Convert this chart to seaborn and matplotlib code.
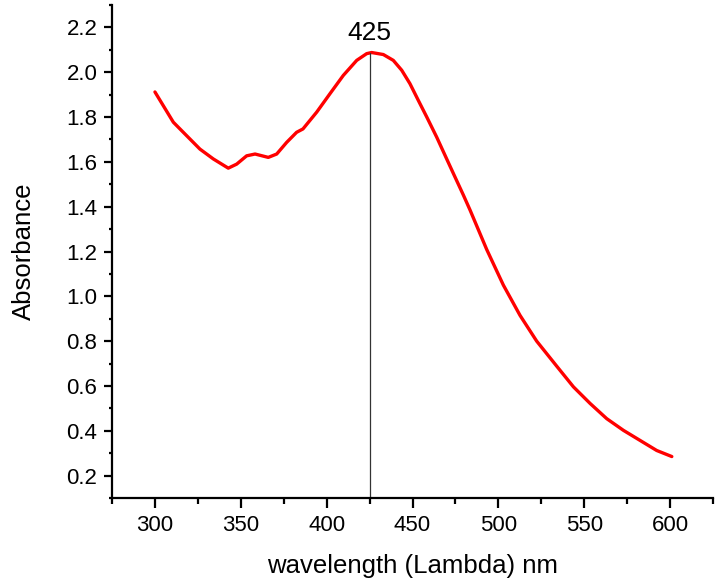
import numpy as np
import pandas as pd
import matplotlib
matplotlib.use("Agg")
import matplotlib.pyplot as plt
import seaborn as sns
from matplotlib.ticker import MultipleLocator

wavelength = [300, 310.7, 316.5, 326.2, 334.0, 342.7, 347.6, 353.4, 358.3, 366.0,
              370.9, 376.7, 382.5, 386.2, 394.2, 401.9, 405.8, 409.7, 417.5, 423.3,
              426.2, 433.0, 438.8, 443.7, 448.5, 453.4, 458.3, 464.1, 469.9, 473.8,
              479.6, 483.5, 493.2, 502.9, 512.6, 522.3, 534.0, 543.7, 553.4, 563.1,
              572.8, 582.5, 592.2, 601.0]
absorbance = [1.912, 1.777, 1.732, 1.657, 1.613, 1.572, 1.590, 1.627, 1.635, 1.620,
              1.635, 1.687, 1.732, 1.747, 1.822, 1.904, 1.945, 1.986, 2.053, 2.083,
              2.088, 2.079, 2.053, 2.009, 1.949, 1.874, 1.800, 1.710, 1.613, 1.548,
              1.452, 1.385, 1.209, 1.050, 0.915, 0.800, 0.688, 0.596, 0.522, 0.454,
              0.402, 0.357, 0.312, 0.285]
peak_wl = 425
peak_label = "425"
x_ticks = [300, 350, 400, 450, 500, 550, 600]
y_ticks = [0.2, 0.4, 0.6, 0.8, 1.0, 1.2, 1.4, 1.6, 1.8, 2.0, 2.2]

sns.set_style("ticks")
plt.rcParams['font.family'] = ['Liberation Sans', 'DejaVu Sans']
plt.rcParams['text.color'] = 'black'
plt.rcParams['axes.labelcolor'] = 'black'

df = pd.DataFrame({"wavelength": wavelength, "absorbance": absorbance})

fig = plt.figure(figsize=(7.19, 5.83), dpi=100)
ax = fig.add_axes([0.1558, 0.1458, 0.9917 - 0.1558, 0.9914 - 0.1458])

sns.lineplot(data=df, x="wavelength", y="absorbance", ax=ax, color="#ff0000",
             linewidth=2.4, sort=False, solid_joinstyle="round", solid_capstyle="round")

ax.set_xlim(275, 625)
ax.set_ylim(0.1, 2.3)

peak_abs = float(np.interp(peak_wl, wavelength, absorbance))
ax.plot([peak_wl, peak_wl], [0.1, peak_abs], color="#333333", linewidth=0.9)
ax.text(peak_wl, 2.12, peak_label, ha="center", va="bottom", fontsize=19, color="black")

ax.set_xticks(x_ticks)
ax.set_yticks(y_ticks)
ax.set_yticklabels([f"{v:.1f}" for v in y_ticks])
ax.xaxis.set_minor_locator(MultipleLocator(25))
ax.yaxis.set_minor_locator(MultipleLocator(0.1))

ax.tick_params(axis="x", which="major", direction="out", length=7, width=1.6,
               labelsize=16, colors="black", pad=5)
ax.tick_params(axis="x", which="minor", direction="out", length=4, width=1.6,
               colors="black")
ax.tick_params(axis="y", which="major", direction="out", length=5.5, width=1.6,
               labelsize=16, colors="black", pad=5)
ax.tick_params(axis="y", which="minor", direction="out", length=2.5, width=1.6,
               colors="black")

for s in ["top", "right"]:
    ax.spines[s].set_visible(False)
for s in ["left", "bottom"]:
    ax.spines[s].set_linewidth(1.6)
    ax.spines[s].set_color("black")

ax.set_xlabel("wavelength (Lambda) nm", fontsize=18.5, labelpad=13, color="black")
ax.set_ylabel("Absorbance", fontsize=18.5, labelpad=22, color="black")

fig.savefig("out.png", dpi=100)
